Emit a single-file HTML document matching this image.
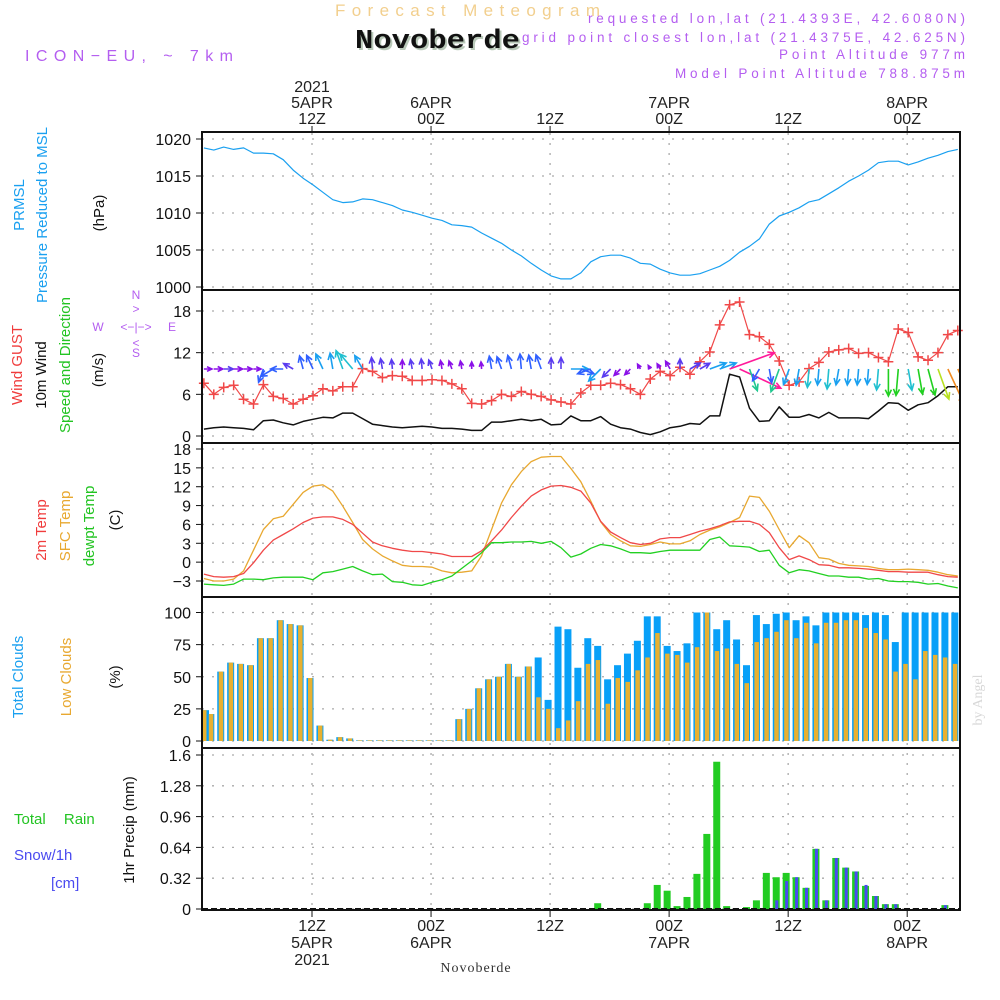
<!DOCTYPE html>
<html><head><meta charset="utf-8"><style>
html,body{margin:0;padding:0;background:#fff;}
svg{display:block;font-family:"Liberation Sans",sans-serif;}
</style></head><body>
<svg id="chart" width="1000" height="1000" viewBox="0 0 1000 1000" xmlns="http://www.w3.org/2000/svg">
<defs><clipPath id="windClip"><rect x="202" y="290" width="758" height="153"/></clipPath></defs>
<rect x="0" y="0" width="1000" height="1000" fill="#fff"/>
<text x="335" y="16" textLength="265" lengthAdjust="spacing" font-size="17" fill="#f2cf8e">Forecast Meteogram</text>
<text x="357" y="50" textLength="165" lengthAdjust="spacingAndGlyphs" font-family="Liberation Mono, monospace" font-weight="bold" font-size="27" fill="#b9c9b9">Novoberde</text>
<text x="355" y="48" textLength="165" lengthAdjust="spacingAndGlyphs" font-family="Liberation Mono, monospace" font-weight="bold" font-size="27" fill="#111">Novoberde</text>
<text x="25" y="61" textLength="208" lengthAdjust="spacing" font-size="16" fill="#b45ef0">ICON−EU, ~ 7km</text>
<g font-size="13.5" fill="#b45ef0">
<text x="588" y="23" textLength="377" lengthAdjust="spacing">requested lon,lat (21.4393E, 42.6080N)</text>
<text x="522" y="42" textLength="443" lengthAdjust="spacing">grid point closest lon,lat (21.4375E, 42.625N)</text>
<text x="779" y="59" textLength="186" lengthAdjust="spacing">Point Altitude 977m</text>
<text x="675" y="78" textLength="290" lengthAdjust="spacing">Model Point Altitude 788.875m</text>
</g>
<g id="grid"></g>
<g id="marks"></g>
<g id="arrows" clip-path="url(#windClip)"></g>
<g id="frames"></g>
<g id="axes"></g>
<g font-size="15" text-anchor="middle">
<text transform="translate(24,205) rotate(-90)" fill="#1aa0f0">PRMSL</text>
<text transform="translate(47,215) rotate(-90)" fill="#1aa0f0">Pressure Reduced to MSL</text>
<text transform="translate(104,213) rotate(-90)" fill="#111">(hPa)</text>
<text transform="translate(22,365) rotate(-90)" fill="#f03c3c">Wind GUST</text>
<text transform="translate(46,375) rotate(-90)" fill="#111">10m Wind</text>
<text transform="translate(70,365) rotate(-90)" fill="#22c422">Speed and Direction</text>
<text transform="translate(103,370) rotate(-90)" fill="#111">(m/s)</text>
<text transform="translate(46,530) rotate(-90)" fill="#f03c3c">2m Temp</text>
<text transform="translate(70,526) rotate(-90)" fill="#e8a830">SFC Temp</text>
<text transform="translate(94,526) rotate(-90)" fill="#22c422">dewpt Temp</text>
<text transform="translate(120,520) rotate(-90)" fill="#111">(C)</text>
<text transform="translate(23,677) rotate(-90)" fill="#1aa0f0">Total Clouds</text>
<text transform="translate(71,677) rotate(-90)" fill="#e8a830">Low Clouds</text>
<text transform="translate(120,677) rotate(-90)" fill="#111">(%)</text>
<text transform="translate(134,830) rotate(-90)" fill="#111">1hr Precip (mm)</text>
</g>
<text x="14" y="824" font-size="15" fill="#22c422">Total <tspan dx="14">Rain</tspan></text>
<text x="14" y="860" font-size="15" fill="#4a4af0">Snow/1h</text>
<text x="51" y="888" font-size="15" fill="#4a4af0">[cm]</text>
<g font-size="12" fill="#b45ef0" text-anchor="middle">
<text x="136" y="299">N</text><text x="136" y="313">&gt;</text>
<text x="136" y="331">&lt;−|−&gt;</text>
<text x="98" y="331">W</text><text x="172" y="331">E</text>
<text x="136" y="347">&lt;</text><text x="136" y="357">S</text>
</g>
<text transform="translate(982,700) rotate(-90)" font-family="Liberation Serif, serif" font-size="14" fill="#d8d8d8" text-anchor="middle">by Angel</text>
<text x="476" y="972" font-family="Liberation Serif, serif" font-size="14" fill="#333" text-anchor="middle" letter-spacing="1">Novoberde</text>
</svg>
<script>
const pressure=[1018.8,1018.5,1018.9,1018.6,1018.8,1018.1,1018.1,1018.0,1017.2,1015.8,1014.7,1013.8,1012.8,1011.8,1011.4,1011.5,1011.9,1011.8,1011.4,1011.0,1010.4,1010.1,1009.7,1009.3,1009.0,1008.4,1008.3,1008.1,1007.3,1006.6,1005.9,1005.0,1004.2,1003.2,1002.3,1001.5,1001.1,1001.1,1001.9,1003.4,1004.1,1004.3,1004.3,1003.9,1003.2,1003.1,1002.4,1001.9,1001.6,1001.6,1001.8,1002.3,1002.8,1003.6,1004.7,1005.5,1006.5,1008.5,1009.6,1010.1,1010.7,1011.5,1011.8,1012.6,1013.4,1014.3,1015.0,1015.8,1016.8,1017.0,1017.0,1016.5,1016.9,1017.4,1017.8,1018.3,1018.6];
const gust=[7.6,6.0,7.0,7.3,5.3,4.6,7.4,5.7,5.4,4.6,5.3,5.8,6.8,6.5,7.1,7.1,9.7,9.3,8.4,8.7,8.6,8.0,8.0,8.1,8.0,7.5,6.8,4.7,4.6,5.1,6.0,5.7,6.4,6.0,5.7,5.2,4.9,4.6,6.2,7.3,7.3,7.6,7.4,6.8,6.0,8.2,9.3,8.7,9.9,8.9,10.7,12.1,16.0,18.9,19.3,14.6,14.3,13.2,10.8,7.3,7.8,9.7,10.6,12.1,12.4,12.6,11.9,12.0,11.3,10.7,15.4,14.9,11.4,10.9,12.0,14.6,15.2];
const wind=[1.0,1.2,1.3,1.2,1.1,0.9,2.2,2.3,1.9,1.6,2.1,2.4,2.7,2.6,3.3,3.3,2.5,1.7,1.5,1.3,1.2,1.3,1.4,1.3,1.1,1.1,1.0,0.8,0.8,2.0,2.0,2.2,2.4,2.2,2.4,1.6,1.7,2.9,2.2,2.2,2.8,1.7,1.2,1.0,0.5,0.2,0.6,1.2,1.4,1.8,1.7,2.9,2.9,8.9,8.5,4.0,2.1,2.2,4.2,2.7,2.7,3.1,2.6,3.4,2.6,2.6,2.6,2.5,3.6,4.8,4.7,3.7,4.5,4.8,5.8,7.1,7.1];
const windDir=[0,0,0,0,0,0,-110,-150,180,150,105,115,115,100,110,130,120,95,100,95,90,100,95,110,100,110,100,90,95,100,110,105,95,100,110,90,90,0,-20,200,225,225,225,225,120,120,120,120,90,30,30,20,20,20,-25,-70,-120,-80,-110,-110,-100,-95,-95,-95,-100,-95,-95,-95,-95,-90,-95,-80,-80,-75,-70,-65,-65];
const temp2m=[-1.9,-2.3,-2.4,-2.3,-1.8,-0.1,1.9,3.5,4.4,5.3,6.3,7.0,7.2,7.2,6.8,6.0,4.6,3.2,2.6,2.2,1.9,1.7,1.7,1.5,1.3,0.9,0.9,0.9,1.8,3.4,5.1,7.1,8.9,10.5,11.5,12.1,12.2,11.9,11.3,9.4,6.5,4.8,3.9,3.1,2.8,3.0,3.7,3.9,3.9,4.4,4.9,5.3,5.8,6.4,6.5,6.5,6.0,4.7,2.3,0.4,1.0,0.4,-0.4,-0.5,-0.9,-0.9,-1.0,-1.1,-1.3,-1.5,-1.5,-1.6,-1.6,-1.6,-2.0,-2.3,-2.4];
const tempSfc=[-2.6,-3.0,-3.0,-2.7,-1.4,1.9,5.2,6.9,7.3,9.2,11.1,12.1,12.3,11.3,8.9,6.3,3.6,2.1,1.0,0.2,-0.5,-0.7,-0.7,-0.8,-1.4,-1.7,-1.6,-1.4,1.0,5.2,9.4,12.3,14.4,16.0,16.7,16.8,16.8,14.9,12.8,9.7,6.4,4.4,3.4,2.6,2.5,2.8,3.2,2.9,2.9,3.4,4.4,5.1,5.6,6.3,7.1,10.5,10.3,8.1,5.2,2.3,4.2,3.1,0.7,0.5,-0.2,-0.5,-0.6,-0.7,-1.0,-1.2,-1.2,-1.1,-1.2,-1.3,-1.6,-2.0,-2.2];
const dewpt=[-3.5,-3.6,-3.7,-3.5,-2.7,-2.7,-2.8,-2.5,-2.4,-2.4,-2.4,-2.8,-1.7,-1.5,-1.1,-0.7,-1.4,-2.0,-1.9,-3.1,-3.2,-3.6,-3.7,-3.2,-2.8,-2.2,-1.0,0.2,1.5,3.1,3.1,3.2,3.2,3.3,3.0,3.3,2.3,0.8,1.3,2.2,2.8,2.6,2.1,1.5,1.5,1.4,1.7,1.9,1.9,1.9,1.9,3.6,4.0,2.6,2.5,2.4,1.7,1.9,-0.5,-1.7,-1.2,-1.4,-1.8,-2.2,-2.2,-2.4,-2.4,-2.7,-2.6,-3.0,-3.1,-3.1,-3.2,-3.5,-3.4,-3.8,-4.1];
const cloudTotal=[24,21,54,61,60,59,80,80,94,91,90,49,12,1,3,2,0.5,0.5,0.5,0.5,0.5,0.5,0.5,0.5,0.5,0.5,17,25,41,48,50,60,50,58,65,32,89,87,57,80,74,48,59,68,78,97,97,74,70,76,100,100,87,94,79,59,98,91,99,100,94,97,90,100,100,100,100,98,100,98,77,100,100,100,100,100,100,100];
const cloudLow=[24,21,54,61,60,59,80,80,94,91,90,49,12,1,3,2,0.5,0.5,0.5,0.5,0.5,0.5,0.5,0.5,0.5,0.5,17,25,41,48,50,60,50,58,34,25,10,16,31,60,63,29,49,46,55,65,84,68,67,61,73,100,70,72,60,45,77,80,85,94,80,92,76,92,92,94,94,88,84,79,54,60,48,70,67,65,60,60];
const rain=[0,0,0,0,0,0,0,0,0,0,0,0,0,0,0,0,0,0,0,0,0,0,0,0,0,0,0,0,0,0,0,0,0,0,0,0,0,0,0,0,0.06,0,0,0,0,0.06,0.25,0.19,0.03,0.125,0.365,0.78,1.53,0.03,0,0.02,0.09,0.375,0.33,0.375,0.33,0.22,0.625,0.09,0.53,0.43,0.39,0.24,0.135,0.05,0.05,0,0,0,0,0.04,0];
const snow=[0,0,0,0,0,0,0,0,0,0,0,0,0,0,0,0,0,0,0,0,0,0,0,0,0,0,0,0,0,0,0,0,0,0,0,0,0,0,0,0,0,0,0,0,0,0,0,0,0,0,0,0,0,0,0,0,0,0,0.09,0.29,0.33,0.22,0.625,0.09,0.53,0.43,0.39,0.25,0.135,0.05,0.05,0,0,0,0.005,0.04,0];
const timeTicks=[12,24,36,48,60,72];
const topTickLabels=[["2021","5APR","12Z"],["6APR","00Z"],["12Z"],["7APR","00Z"],["12Z"],["8APR","00Z"]];
const bottomTickLabels=[["12Z","5APR","2021"],["00Z","6APR"],["12Z"],["00Z","7APR"],["12Z"],["00Z","8APR"]];
const pTicks=[1000,1005,1010,1015,1020];
const wTicks=[0,6,12,18];
const tTicks=[-3,0,3,6,9,12,15,18];
const cTicks=[0,25,50,75,100];
const rTicks=[0,0.32,0.64,0.96,1.28,1.6];

const NS='http://www.w3.org/2000/svg';
const X0=202,X1=960;
function mk(tag,attrs,parent){const e=document.createElementNS(NS,tag);for(const k in attrs)e.setAttribute(k,attrs[k]);parent.appendChild(e);return e;}
function xH(h){return 312+(h-12)*9.92;}
function xLine(i){return xH(i+1.1);}
function xBar(i){return xH(i+0.8);}
function lin(v0,v1,y0,y1){return v=>y0+(v-v0)*(y1-y0)/(v1-v0);}
const yP=lin(1000,1020,287,139);
const yW=lin(0,18,436,311);
const yT=lin(-3,18,581,449);
const yC=lin(0,100,741,612.5);
const yR=lin(0,1.6,909,755);
const panels=[[132,290],[290,443],[443,597],[597,748],[748,910]];
const grid=document.getElementById('grid'),marks=document.getElementById('marks'),arrows=document.getElementById('arrows'),frames=document.getElementById('frames'),axes=document.getElementById('axes');
timeTicks.forEach(h=>{const l=mk('line',{x1:xH(h),x2:xH(h),y1:133,y2:910,stroke:'#aaa','stroke-width':1.3,'stroke-dasharray':'2,8'},grid);

});
function hgrid(ticks,fy,fmt){ticks.forEach(v=>{const y=fy(v);
const l=mk('line',{x1:X0,x2:X1,y1:y,y2:y,stroke:'#aaa','stroke-width':1.3,'stroke-dasharray':'2,8'},grid);


const t=mk('text',{x:191,y:y+6,'text-anchor':'end','font-size':16,fill:'#111'},axes);t.textContent=fmt(v);


mk('line',{x1:X0-6,x2:X0,y1:y,y2:y,stroke:'#111','stroke-width':1},axes);});}
hgrid(pTicks,yP,v=>String(v));
hgrid(wTicks,yW,v=>String(v));
hgrid(tTicks,yT,v=>v<0?'−'+(-v):String(v));
hgrid(cTicks,yC,v=>String(v));
hgrid(rTicks,yR,v=>v===0?'0':String(v));
function poly(data,fx,fy,color,w,name){const pts=data.map((v,i)=>fx(i).toFixed(1)+','+fy(v).toFixed(1)).join(' ');
const p=mk('polyline',{points:pts,fill:'none',stroke:color,'stroke-width':w,'stroke-linejoin':'round'},marks);

return p;}
poly(pressure,xLine,yP,'#1aa0f0',1.2,'pressure-line');
poly(wind,xLine,yW,'#111',1.5,'wind-speed-line');
poly(gust,xLine,yW,'#f04848',1.2,'gust-line');
gust.forEach((v,i)=>{const x=xLine(i),y=yW(v);
const g=mk('path',{d:`M${x-5} ${y}H${x+5}M${x} ${y-5}V${y+5}`,stroke:'#f04848','stroke-width':1.5},marks);

});
function windColor(s){if(s>8)return '#ff1a9a';if(s>6.5)return '#f08a20';if(s>5.5)return '#b8e020';if(s>4.3)return '#20d020';if(s>3.8)return '#20c890';if(s>3)return '#20c0d0';if(s>2.4)return '#1aa0f0';if(s>1.8)return '#3060ff';if(s>1.2)return '#5a3cf0';return '#8a10e8';}
windDir.forEach((d,i)=>{const s=wind[i];const x=xLine(i),y=369;const L=3+5*s;const a=d*Math.PI/180;
const x2=x+L*Math.cos(a),y2=y-L*Math.sin(a);const c=windColor(s);
const h1=a+Math.PI-0.45,h2=a+Math.PI+0.45,hl=Math.min(7,3+L*0.3);
const p=mk('path',{d:`M${x.toFixed(1)} ${y}L${x2.toFixed(1)} ${y2.toFixed(1)}M${(x2+hl*Math.cos(h1)).toFixed(1)} ${(y2-hl*Math.sin(h1)).toFixed(1)}L${x2.toFixed(1)} ${y2.toFixed(1)}L${(x2+hl*Math.cos(h2)).toFixed(1)} ${(y2-hl*Math.sin(h2)).toFixed(1)}`,stroke:c,'stroke-width':1.6,fill:'none'},arrows);

});
poly(tempSfc,xLine,yT,'#e8a830',1.3,'sfc-temp-line');
poly(temp2m,xLine,yT,'#f04848',1.3,'temp-2m-line');
poly(dewpt,xLine,yT,'#22d022',1.3,'dewpt-line');
cloudTotal.forEach((v,i)=>{const x=xBar(i);const y=yC(v);
const b=mk('rect',{x:Math.max(X0,x-3.5),y:y,width:Math.min(7,X1-Math.max(X0,x-3.5)),height:yC(0)-y,fill:'#08a0f8'},marks);


const yl=yC(cloudLow[i]);
const lo=mk('rect',{x:Math.max(X0,x-2),y:yl,width:Math.min(4.5,X1-Math.max(X0,x-2)),height:yC(0)-yl,fill:'#e8b030'},marks);

});
rain.forEach((v,i)=>{if(v<=0)return;const x=xBar(i);const y=yR(v);
const b=mk('rect',{x:x-3.5,y:y,width:7,height:yR(0)-y,fill:'#22cc22'},marks);

});
snow.forEach((v,i)=>{if(v<=0)return;const x=xBar(i);const y=yR(v);
const b=mk('rect',{x:x-1,y:y,width:3,height:Math.max(1,yR(0)-y),fill:'#4a4af0'},marks);

});
mk('line',{x1:X0,x2:X1,y1:908.5,y2:908.5,stroke:'#111','stroke-width':1,'stroke-dasharray':'6,3'},marks);
panels.forEach(([a,b])=>{const r=mk('rect',{x:X0,y:a,width:X1-X0,height:b-a,fill:'none',stroke:'#111','stroke-width':2},frames);

});
timeTicks.forEach((h,k)=>{const x=xH(h);
mk('line',{x1:x,x2:x,y1:126,y2:133,stroke:'#111'},axes);
mk('line',{x1:x,x2:x,y1:910,y2:917,stroke:'#111'},axes);
const tl=topTickLabels[k];tl.forEach((s,j)=>{const t=mk('text',{x:x,y:124-(tl.length-1-j)*16,'text-anchor':'middle','font-size':16,fill:'#222'},axes);t.textContent=s;

});
const bl=bottomTickLabels[k];bl.forEach((s,j)=>{const t=mk('text',{x:x,y:931+j*17,'text-anchor':'middle','font-size':16,fill:'#222'},axes);t.textContent=s;

});});
</script>
</body></html>
